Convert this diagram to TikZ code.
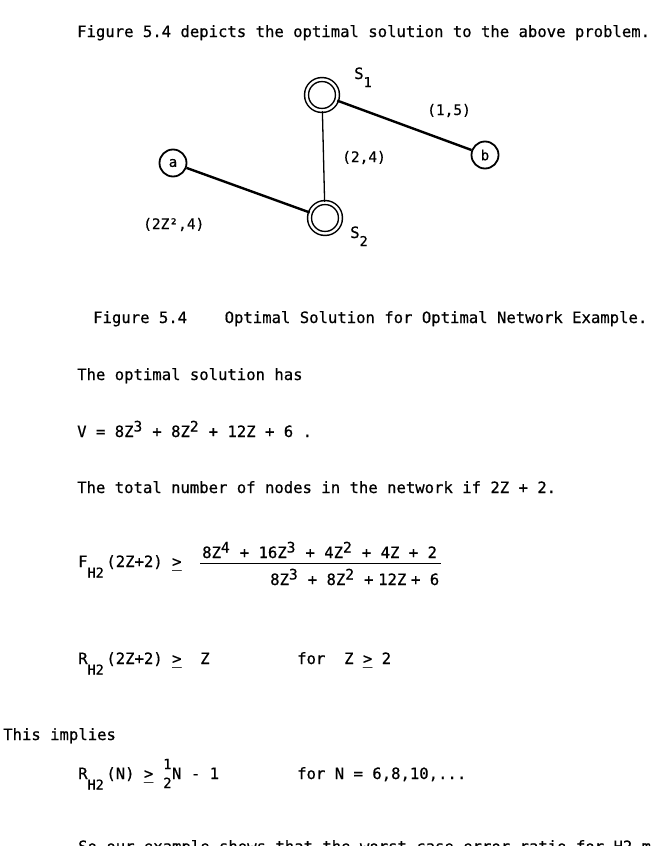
\documentclass[tikz,border=0pt]{standalone}
\usepackage{fontspec}
\setmainfont{DejaVu Sans Mono}[FakeBold=0.6]
\frenchspacing
\newlength\cellw
\setlength\cellw{9.39pt}
\newcommand{\sz}[1]{\fontsize{#1}{#1}\selectfont}
\newcommand{\supr}[1]{\makebox[\cellw][l]{\raisebox{5.5pt}{\sz{14.5}#1}}}
\newcommand{\subs}[1]{\makebox[2\cellw][l]{\raisebox{-10.5pt}{\sz{13.5}#1}}}
\newcommand{\sbsc}[1]{\raisebox{-8pt}{\sz{13.5}#1}}
\newcommand{\gequ}{\makebox[\cellw][l]{\makebox[0pt][l]{\_}>}}
\newcommand{\halfup}{\makebox[\cellw][c]{\sz{14}\makebox[0pt][l]{\raisebox{10pt}{1}}\raisebox{-9pt}{2}}}
\begin{document}
\begin{tikzpicture}[x=1pt,y=-1pt,
  txt/.style={anchor=base west,inner sep=0pt,font=\sz{15.6}},
  lbl/.style={anchor=base west,inner sep=0pt,font=\sz{14.5}},
  vertex/.style={circle,draw,line width=1.8pt,minimum size=27pt,inner sep=0pt,font=\sz{14}},
  hub/.style={circle,draw,double,double distance=2.4pt,line width=1.5pt,minimum size=31pt,inner sep=0pt},
  heavy/.style={line width=2.4pt},
  light/.style={line width=1.3pt}]
\useasboundingbox (0,0) rectangle (659,846);
\clip (0,0) rectangle (659,846);
\node[txt] (intro) at (77,37) {Figure 5.4 depicts the optimal solution to the above problem.};
% network
\node[hub] (s1) at (322,95) {};
\node[hub] (s2) at (325,218) {};
\node[vertex] (a) at (173,163) {a};
\node[vertex] (b) at (485,155) {b};
\draw[heavy] (s1) -- (b);
\draw[heavy] (a) -- (s2);
\draw[light] (s1) -- (s2);
\node[txt] (s1lab) at (354,79) {S\sbsc{1}};
\node[txt] (s2lab) at (350,238) {S\sbsc{2}};
\node[lbl] (w15) at (427,115) {(1,5)};
\node[lbl] (w24) at (342,162) {(2,4)};
\node[lbl] (wa) at (143,229) {(2Z²,4)};
\node[txt] (caption) at (93,323) {Figure 5.4\ \ \ \ Optimal Solution for Optimal Network Example.};
% text and formulas
\node[txt] (has) at (77,380) {The optimal solution has};
\node[txt] (vval) at (77,437) {V = 8Z\supr{3} + 8Z\supr{2} + 12Z + 6 .};
\node[txt] (total) at (77,493) {The total number of nodes in the network if 2Z + 2.};
\node[txt] (flhs) at (78,567) {F\subs{H2}(2Z+2) \gequ};
\node[txt] (fnum) at (202,558) {8Z\supr{4} + 16Z\supr{3} + 4Z\supr{2} + 4Z + 2};
\node[txt] (fden) at (270,585) {8Z\supr{3} + 8Z\supr{2} +\hspace{0.5\cellw}12Z\hspace{0.5\cellw}+ 6};
\coordinate (barl) at (200,563.5);
\coordinate (barr) at (441,563.5);
\draw[light] (barl) -- (barr);
\node[txt] (rlhs) at (78,664) {R\subs{H2}(2Z+2) \gequ\ \ Z};
\node[txt] (rfor) at (297,664) {for\ \ Z \gequ{} 2};
\node[txt] (impl) at (3,740) {This implies};
\node[txt] (nlhs) at (78,779) {R\subs{H2}(N) \gequ{} \halfup N - 1};
\node[txt] (nfor) at (297,779) {for N = 6,8,10,...};
\node[txt] (more) at (78,852) {So our example shows that the worst case error ratio for H2 m};
\end{tikzpicture}
\end{document}
